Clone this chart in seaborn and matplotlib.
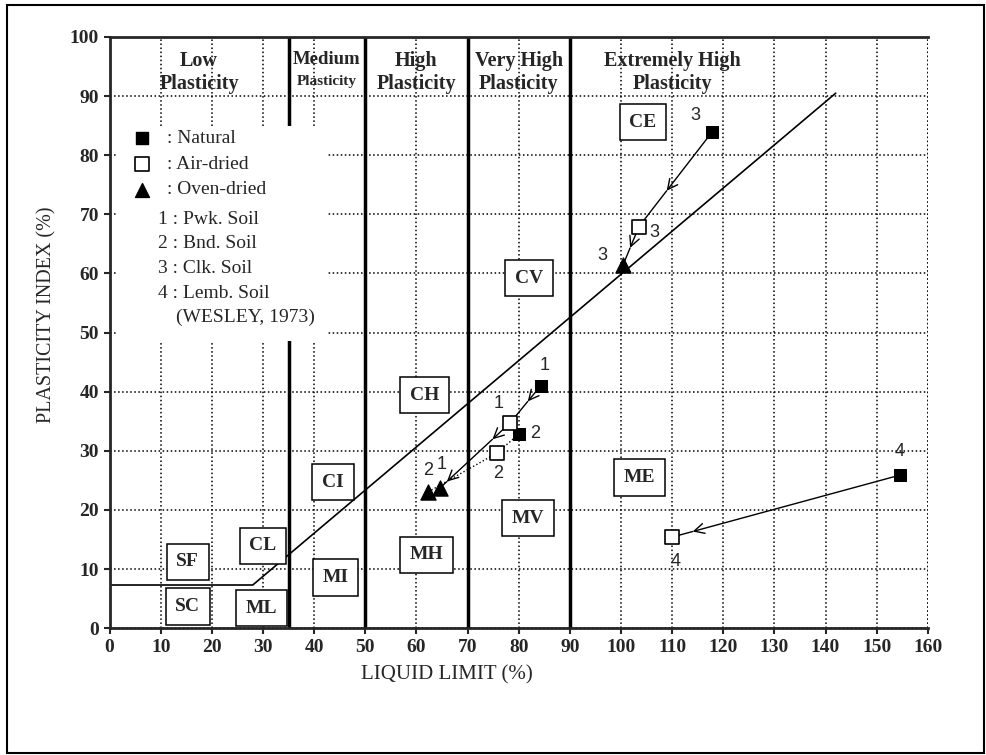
import matplotlib
matplotlib.use("Agg")
import matplotlib.pyplot as plt
import pandas as pd
import seaborn as sns
from matplotlib.patches import Rectangle

# soil samples (LL, PI) per drying state
soils = ["1", "2", "3", "4"]
natural_ll = [84.3, 80.0, 117.8, 154.6]
natural_pi = [41.0, 32.8, 83.9, 25.9]
air_ll = [78.3, 75.7, 103.5, 110.0]
air_pi = [34.7, 29.6, 67.9, 15.4]
oven_soils = ["1", "2", "3"]
oven_ll = [64.6, 62.2, 100.4]
oven_pi = [23.7, 23.0, 61.4]

# A-line
aline_ll = [0, 28, 142]
aline_pi = [7.3, 7.3, 90.5]

# zone labels
zone_names = ["SF", "SC", "CL", "ML", "CI", "MI", "CH", "MH", "CV", "MV", "CE", "ME"]
zone_ll = [15.3, 15.3, 30.0, 29.7, 43.7, 44.2, 61.6, 62.0, 82.0, 81.8, 104.3, 103.7]
zone_pi = [11.2, 3.7, 13.9, 3.4, 24.7, 8.6, 39.4, 12.4, 59.2, 18.6, 85.6, 25.5]

band_titles = ["Low\nPlasticity", "High\nPlasticity", "Very High\nPlasticity",
               "Extremely High\nPlasticity"]
band_x = [17.5, 60, 80, 110]

legend_lines = ["1 : Pwk. Soil", "2 : Bnd. Soil", "3 : Clk. Soil", "4 : Lemb. Soil"]

sns.set_style("ticks")
plt.rcParams['font.family'] = ['Liberation Serif', 'DejaVu Serif']

fig = plt.figure(figsize=(9.87, 7.55), dpi=100)
ax = fig.add_axes([0.111, 0.168, 0.829, 0.783])
ax.set_xlim(0, 160)
ax.set_ylim(0, 100)
ax.set_xticks(range(0, 161, 10))
ax.set_yticks(range(0, 101, 10))
ax.set_axisbelow(True)
ax.grid(True, linestyle=':', color='black', lw=1.1)
ax.axvline(160, linestyle=':', color='black', lw=1.1, zorder=0.5)

for side in ["left", "bottom", "top"]:
    ax.spines[side].set_linewidth(2)
ax.spines["right"].set_visible(False)
ax.tick_params(direction='out', length=4, width=1.5, labelsize=14)
for lab in ax.get_xticklabels() + ax.get_yticklabels():
    lab.set_fontweight('bold')

# plasticity band boundaries
ax.axvline(35, color='black', lw=2.5, zorder=0.8)
for xv in [50, 70, 90]:
    ax.axvline(xv, color='black', lw=2.5, zorder=2)

# white area behind the key
ax.add_patch(Rectangle((1.5, 48.5), 41, 36.5, facecolor='white', edgecolor='none', zorder=1))

sns.lineplot(x=aline_ll, y=aline_pi, sort=False, color='black', lw=1.2, ax=ax, zorder=2)

for t, xv in zip(band_titles, band_x):
    ax.text(xv, 97.6, t, ha='center', va='top', fontsize=14.5, fontweight='bold',
            linespacing=1.2)
ax.text(42.5, 97.6, "Medium", ha='center', va='top', fontsize=13.5, fontweight='bold')
ax.text(42.5, 93.6, "Plasticity", ha='center', va='top', fontsize=11, fontweight='bold')

for name, xv, yv in zip(zone_names, zone_ll, zone_pi):
    ax.text(xv, yv, name, ha='center', va='center', fontsize=14, fontweight='bold',
            bbox=dict(boxstyle='square,pad=0.5', fc='white', ec='black', lw=1.1), zorder=3)


# paths between states, with open arrow heads part way along
def seg(p0, p1, fracs, ls='-'):
    prev = p0
    for f in fracs:
        head = (p0[0] + f * (p1[0] - p0[0]), p0[1] + f * (p1[1] - p0[1]))
        ax.annotate('', xy=head, xytext=prev,
                    arrowprops=dict(arrowstyle='->', lw=1, ls=ls, mutation_scale=18,
                                    shrinkA=0, shrinkB=0, color='black'), zorder=3)
        prev = head
    ax.plot([prev[0], p1[0]], [prev[1], p1[1]], color='black', lw=1, ls=ls, zorder=3)


nat = list(zip(natural_ll, natural_pi))
air = list(zip(air_ll, air_pi))
ovn = list(zip(oven_ll, oven_pi))
seg(nat[0], air[0], [0.42])
seg(air[0], ovn[0], [0.25, 0.9])
seg(nat[1], air[1], [], ls=':')
seg(air[1], ovn[1], [], ls=':')
seg(nat[2], air[2], [0.62])
seg(air[2], ovn[2], [0.55])
seg(nat[3], air[3], [0.91])

df_nat = pd.DataFrame({"soil": soils, "ll": natural_ll, "pi": natural_pi})
df_air = pd.DataFrame({"soil": soils, "ll": air_ll, "pi": air_pi})
df_ovn = pd.DataFrame({"soil": oven_soils, "ll": oven_ll, "pi": oven_pi})
sns.scatterplot(data=df_nat, x="ll", y="pi", marker='s', s=85, color='black',
                edgecolor='black', ax=ax, zorder=4)
sns.scatterplot(data=df_air, x="ll", y="pi", marker='s', s=100, color='white',
                edgecolor='black', linewidth=1.2, ax=ax, zorder=4)
sns.scatterplot(data=df_ovn, x="ll", y="pi", marker='^', s=120, color='black',
                edgecolor='black', ax=ax, zorder=4)

# sample numbers
num_labels = ["1", "1", "1", "2", "2", "2", "3", "3", "3", "4", "4"]
num_x = [85.1, 76.0, 65.0, 83.2, 76.0, 62.2, 114.5, 106.5, 96.3, 154.4, 110.6]
num_y = [44.5, 38.0, 27.6, 33.0, 26.2, 26.7, 86.8, 67.0, 63.1, 29.8, 11.2]
for t, xv, yv in zip(num_labels, num_x, num_y):
    ax.text(xv, yv, t, ha='center', va='center', fontsize=13,
            family=['Liberation Sans', 'DejaVu Sans'], zorder=5)

# key
ax.scatter([6.3], [82.9], marker='s', s=85, color='black', zorder=4)
ax.scatter([6.3], [78.5], marker='s', s=100, facecolor='white', edgecolor='black',
           linewidth=1.2, zorder=4)
ax.scatter([6.3], [74.2], marker='^', s=100, color='black', zorder=4)
for t, yv in zip([": Natural", ": Air-dried", ": Oven-dried"], [82.9, 78.5, 74.2]):
    ax.text(11.3, yv, t, ha='left', va='center', fontsize=14)
for i, t in enumerate(legend_lines):
    ax.text(9.4, 69.2 - i * 4.2, t, ha='left', va='center', fontsize=14)
ax.text(13.0, 52.6, "(WESLEY, 1973)", ha='left', va='center', fontsize=14)

ax.set_xlabel("LIQUID LIMIT (%)", fontsize=15)
ax.set_ylabel("PLASTICITY INDEX (%)", fontsize=14.5)
ax.xaxis.set_label_coords(0.412, -0.063)
ax.yaxis.set_label_coords(-0.065, 0.531)

fig.patches.append(Rectangle((0.007, 0.003), 0.99, 0.99, transform=fig.transFigure,
                             fill=False, edgecolor='black', lw=1.5))

fig.savefig("out.png", dpi=100)
